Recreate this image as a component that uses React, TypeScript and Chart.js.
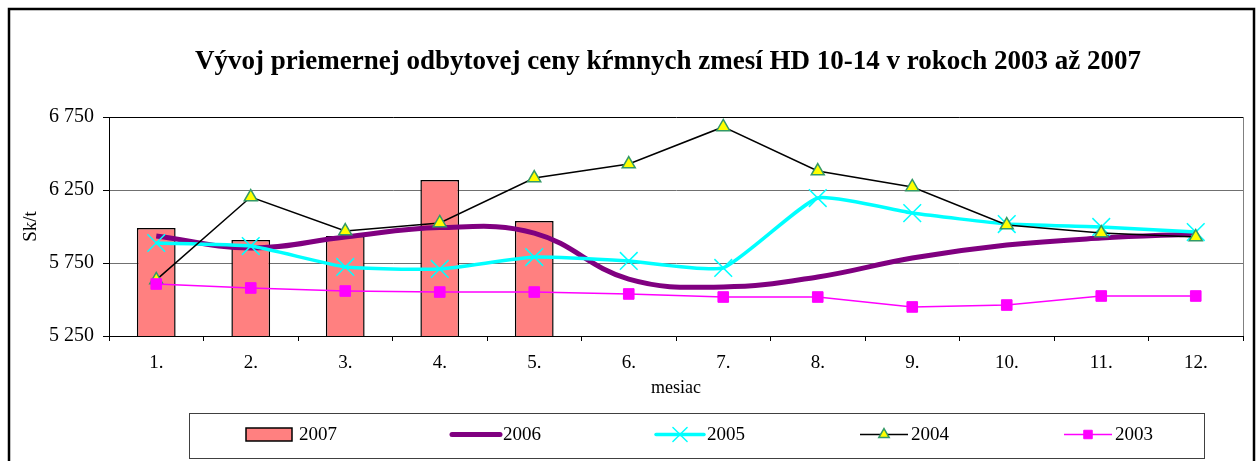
import React, { useEffect, useRef } from "react";
import { Chart, registerables } from "chart.js";

Chart.register(...registerables);

const TITLE = "Vývoj priemernej odbytovej ceny kŕmnych zmesí HD 10-14 v rokoch 2003 až 2007";
const Y_TITLE = "Sk/t";
const X_TITLE = "mesiac";
const MONTHS = ["1.", "2.", "3.", "4.", "5.", "6.", "7.", "8.", "9.", "10.", "11.", "12."];
const Y_MIN = 5250;
const Y_MAX = 6750;
const Y_STEP = 500;

const S2007 = [5990, 5907, 5935, 6318, 6038, null, null, null, null, null, null, null];
const S2006 = [5935, 5853, 5928, 5993, 5955, 5640, 5586, 5654, 5784, 5873, 5921, 5949];
const S2005 = [5887, 5866, 5723, 5709, 5791, 5764, 5716, 6195, 6092, 6017, 5997, 5962];
const S2004 = [5634, 6202, 5969, 6024, 6332, 6428, 6682, 6380, 6271, 6010, 5955, 5928];
const S2003 = [5606, 5579, 5558, 5551, 5551, 5538, 5517, 5517, 5449, 5462, 5524, 5524];

const FONT = '"Liberation Serif", "Times New Roman", serif';

const fmt = (v: number) => {
  const t = Math.floor(v / 1000);
  const r = String(Math.round(v % 1000)).padStart(3, "0");
  return `${t} ${r}`;
};

function drawMarker(ctx: CanvasRenderingContext2D, style: string, r: number, x: number, y: number) {
  ctx.beginPath();
  if (style === "crossRot") {
    const d = r * Math.SQRT1_2;
    ctx.moveTo(x - d, y - d);
    ctx.lineTo(x + d, y + d);
    ctx.moveTo(x - d, y + d);
    ctx.lineTo(x + d, y - d);
    ctx.stroke();
  } else if (style === "triangle") {
    ctx.moveTo(x, y - r);
    ctx.lineTo(x + r * Math.sin(Math.PI / 3), y + r * 0.5);
    ctx.lineTo(x - r * Math.sin(Math.PI / 3), y + r * 0.5);
    ctx.closePath();
    ctx.fill();
    ctx.stroke();
  } else if (style === "rect") {
    const s = r * Math.SQRT1_2;
    ctx.rect(x - s, y - s, 2 * s, 2 * s);
    ctx.fill();
    ctx.stroke();
  }
}

const framePlugin = {
  id: "frameTitleLegend",
  afterDraw(chart: any) {
    const ctx = chart.ctx;
    const ca = chart.chartArea;
    ctx.save();
    ctx.strokeStyle = "#000";
    ctx.lineWidth = 2.5;
    ctx.strokeRect(9, 9, 1245, 470);
    ctx.strokeStyle = "#808080";
    ctx.lineWidth = 1;
    ctx.beginPath();
    ctx.moveTo(ca.right + 0.5, ca.top);
    ctx.lineTo(ca.right + 0.5, ca.bottom);
    ctx.stroke();
    ctx.fillStyle = "#000";
    ctx.font = `bold 27px ${FONT}`;
    ctx.textAlign = "center";
    ctx.textBaseline = "alphabetic";
    ctx.fillText(TITLE, 668, 69);
    ctx.strokeStyle = "#404040";
    ctx.lineWidth = 1;
    ctx.strokeRect(189.5, 413.5, 1015, 45);
    const cy = 434.5;
    ctx.font = `19px ${FONT}`;
    ctx.textAlign = "left";
    ctx.textBaseline = "middle";
    chart.data.datasets.forEach((ds: any, i: number) => {
      const x0 = 246 + i * 204;
      if (ds.type === "bar") {
        ctx.fillStyle = ds.backgroundColor;
        ctx.fillRect(x0, cy - 6.5, 46, 13);
        ctx.strokeStyle = ds.borderColor;
        ctx.lineWidth = 1.5;
        ctx.strokeRect(x0, cy - 6.5, 46, 13);
      } else {
        ctx.strokeStyle = ds.borderColor;
        ctx.lineWidth = ds.borderWidth;
        ctx.lineCap = ds.borderWidth > 3 ? "round" : "butt";
        ctx.beginPath();
        ctx.moveTo(x0 + 2, cy);
        ctx.lineTo(x0 + 50, cy);
        ctx.stroke();
        if (ds.pointRadius > 0) {
          ctx.fillStyle = ds.pointBackgroundColor;
          ctx.strokeStyle = ds.pointBorderColor;
          ctx.lineWidth = ds.pointBorderWidth;
          drawMarker(ctx, ds.pointStyle, ds.pointRadius * 0.8, x0 + 26, cy);
        }
      }
      ctx.fillStyle = "#000";
      ctx.fillText(ds.label, x0 + 53, cy + 1);
    });
    ctx.restore();
  },
};

export default function App() {
  const ref = useRef<HTMLCanvasElement | null>(null);
  useEffect(() => {
    document.body.style.margin = "0";
    const canvas = ref.current!;
    const chart = new Chart(canvas, {
      type: "bar",
      data: {
        labels: MONTHS,
        datasets: [
          {
            type: "bar",
            label: "2007",
            data: S2007,
            backgroundColor: "#FF8080",
            borderColor: "#000000",
            borderWidth: 1.5,
            barPercentage: 0.41,
            categoryPercentage: 1,
            order: 5,
          } as any,
          {
            type: "line",
            label: "2006",
            data: S2006,
            borderColor: "#800080",
            backgroundColor: "#800080",
            borderWidth: 5,
            tension: 0.4,
            pointRadius: 0,
            pointStyle: false,
            order: 4,
          },
          {
            type: "line",
            label: "2005",
            data: S2005,
            borderColor: "#00FFFF",
            backgroundColor: "#00FFFF",
            borderWidth: 3.5,
            tension: 0.15,
            pointStyle: "crossRot",
            pointRadius: 12.5,
            pointBorderWidth: 1.5,
            pointBorderColor: "#00FFFF",
            pointBackgroundColor: "#00FFFF",
            order: 3,
          },
          {
            type: "line",
            label: "2004",
            data: S2004,
            borderColor: "#000000",
            backgroundColor: "#000000",
            borderWidth: 1.5,
            tension: 0,
            pointStyle: "triangle",
            pointRadius: 7.5,
            pointBorderWidth: 1.5,
            pointBorderColor: "#339966",
            pointBackgroundColor: "#FFFF00",
            order: 2,
          },
          {
            type: "line",
            label: "2003",
            data: S2003,
            borderColor: "#FF00FF",
            backgroundColor: "#FF00FF",
            borderWidth: 1.5,
            tension: 0,
            pointStyle: "rect",
            pointRadius: 7.5,
            pointBorderWidth: 1,
            pointBorderColor: "#FF00FF",
            pointBackgroundColor: "#FF00FF",
            order: 1,
          },
        ],
      },
      options: {
        responsive: false,
        animation: false,
        layout: { padding: { top: 117, right: 11, bottom: 55, left: 0 } },
        plugins: {
          legend: { display: false },
          title: { display: false },
          tooltip: { enabled: false },
        },
        scales: {
          x: {
            offset: true,
            grid: {
              offset: true,
              drawOnChartArea: false,
              drawTicks: true,
              tickLength: 5,
              tickColor: "#000",
              tickWidth: 1,
            },
            border: { color: "#000", width: 1 },
            ticks: {
              color: "#000",
              font: { family: FONT, size: 19 },
              padding: 11,
              maxRotation: 0,
            },
            title: {
              display: true,
              text: X_TITLE,
              color: "#000",
              font: { family: FONT, size: 18 },
              padding: { top: 0, bottom: 7 },
            },
            afterFit: (s: any) => {
              s.height = 70;
            },
          },
          y: {
            min: Y_MIN,
            max: Y_MAX,
            grid: {
              color: (c: any) => (c.tick && c.tick.value === Y_MAX ? "#000" : "#707070"),
              lineWidth: 1,
              tickLength: 6,
              tickColor: "#000",
            },
            border: { color: "#000", width: 1 },
            ticks: {
              stepSize: Y_STEP,
              color: "#000",
              font: { family: FONT, size: 20 },
              padding: 9,
              callback: (v: any) => fmt(Number(v)),
            },
            title: {
              display: true,
              text: Y_TITLE,
              color: "#000",
              font: { family: FONT, size: 19 },
              padding: { top: 20, bottom: 0 },
            },
            afterFit: (s: any) => {
              s.width = 109;
            },
          },
        },
      },
      plugins: [framePlugin],
    });
    return () => chart.destroy();
  }, []);
  return <canvas ref={ref} width={1257} height={461} style={{ display: "block" }} />;
}
